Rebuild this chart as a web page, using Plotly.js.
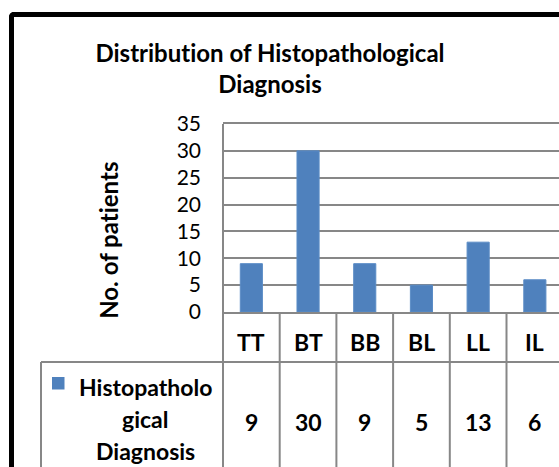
<!DOCTYPE html>
<html>
<head>
<meta charset="utf-8">
<script src="https://cdn.plot.ly/plotly-3.0.1.min.js"></script>
<style>
  html, body { margin: 0; padding: 0; background: #fff; overflow: hidden; }
  #wrap { position: relative; width: 559px; height: 467px; overflow: hidden; }
  #chart { position: absolute; left: 0; top: 0; width: 559px; height: 467px; }
  #chart text { font-variant-ligatures: none; font-feature-settings: "liga" 0; }
  #frame { position: absolute; left: 9px; top: 12px; width: 700px; height: 600px;
           border-left: 5.5px solid #000; border-top: 5.5px solid #000;
           border-top-left-radius: 5px; pointer-events: none; }
</style>
</head>
<body>
<div id="wrap">
  <div id="chart"></div>
  <div id="frame"></div>
</div>
<script>
// ---- data ----
const categories = ['TT', 'BT', 'BB', 'BL', 'LL', 'IL'];
const patients = [9, 30, 9, 5, 13, 6];
const seriesName = 'Histopathological Diagnosis';
const seriesLines = ['Histopatholo', 'gical', 'Diagnosis'];
const yTickVals = [0, 5, 10, 15, 20, 25, 30, 35];
const chartTitle = 'Distribution of Histopathological<br>Diagnosis';
const yTitle = 'No. of patients';

// ---- layout geometry (pixels) ----
const W = 559, H = 467;
const plotL = 223, plotT = 124, plotB = 312, plotR = W;
const catW = 56.7;
const plotW = plotR - plotL, plotH = plotB - plotT;
const px = x => (x - plotL) / plotW;        // pixel -> paper x
const py = y => (plotB - y) / plotH;        // pixel -> paper y

const FONT = 'Lato, Carlito, Calibri, sans-serif';
const GRID = '#878787';
const BAR = '#4F81BD';
const BOLD = 23;

const headerBottom = 362;
const tableLeft = 41;
const bottomY = 480;

const shapes = [];
// vertical lines at category boundaries through the data table
for (let i = 1; i <= categories.length; i++) {
  shapes.push({type: 'line', xref: 'x', yref: 'paper', x0: i - 0.5, x1: i - 0.5,
    y0: 0, y1: py(bottomY), line: {color: GRID, width: 2}});
}
// plot left edge continued down through the table
shapes.push({type: 'line', xref: 'paper', yref: 'paper', x0: 0, x1: 0,
  y0: 1, y1: py(bottomY), line: {color: GRID, width: 2}});
// horizontal line between header row and value row
shapes.push({type: 'line', xref: 'paper', yref: 'paper', x0: px(tableLeft), x1: 1.05,
  y0: py(headerBottom), y1: py(headerBottom), line: {color: GRID, width: 2}});
// left edge of the value row
shapes.push({type: 'line', xref: 'paper', yref: 'paper', x0: px(tableLeft), x1: px(tableLeft),
  y0: py(headerBottom), y1: py(bottomY), line: {color: GRID, width: 2}});
// legend key
shapes.push({type: 'rect', xref: 'paper', yref: 'paper', x0: px(52), x1: px(64.5),
  y0: py(377), y1: py(389.5), fillcolor: BAR, line: {width: 0}});

const annotations = [];
categories.forEach((c, i) => {
  annotations.push({x: c, xref: 'x', y: py(341.5), yref: 'paper', text: '<b>' + c + '</b>',
    showarrow: false, xanchor: 'center', yanchor: 'middle',
    font: {family: FONT, size: BOLD, color: '#000'}});
  annotations.push({x: c, xref: 'x', y: py(421.5), yref: 'paper', text: '<b>' + patients[i] + '</b>',
    showarrow: false, xanchor: 'center', yanchor: 'middle',
    font: {family: FONT, size: BOLD, color: '#000'}});
});
const lineYs = [387, 419, 451];
seriesLines.forEach((t, i) => {
  annotations.push({x: px(145), xref: 'paper', y: py(lineYs[i]), yref: 'paper',
    text: '<b>' + t + '</b>', showarrow: false, xanchor: 'center', yanchor: 'middle',
    font: {family: FONT, size: BOLD, color: '#000'}});
});
annotations.push({x: px(108), xref: 'paper', y: py(240), yref: 'paper',
  text: '<b>' + yTitle + '</b>', textangle: -90, showarrow: false,
  xanchor: 'center', yanchor: 'middle', font: {family: FONT, size: 24, color: '#000'}});

const trace = {
  type: 'bar',
  name: seriesName,
  x: categories,
  y: patients,
  marker: {color: BAR, line: {color: '#5b8cc6', width: 1}},
  hoverinfo: 'x+y'
};

const layout = {
  width: W, height: H,
  margin: {l: plotL, r: W - plotR, t: plotT, b: H - plotB, pad: 0},
  paper_bgcolor: '#fff', plot_bgcolor: '#fff',
  showlegend: false,
  bargap: 0.61,
  font: {family: FONT, color: '#000'},
  title: {text: '<b>' + chartTitle + '</b>', x: 270 / W, xanchor: 'center',
    xref: 'container', yref: 'container', y: 1 - 61.5 / H, yanchor: 'middle',
    font: {family: FONT, size: 24, color: '#000'}},
  xaxis: {type: 'category', range: [-0.5, -0.5 + plotW / catW],
    showticklabels: false, showgrid: false, zeroline: false,
    showline: true, mirror: true, linecolor: GRID, linewidth: 2, ticks: '', fixedrange: true},
  yaxis: {range: [0, 35], tickvals: yTickVals, ticktext: yTickVals.map(String),
    showgrid: true, gridcolor: GRID, gridwidth: 2,
    zeroline: false, showline: false, ticks: '', ticklabelstandoff: 21,
    tickfont: {family: FONT, size: 21, color: '#000'}, fixedrange: true},
  shapes: shapes,
  annotations: annotations
};

Plotly.newPlot('chart', [trace], layout, {displayModeBar: false, staticPlot: true});
</script>
</body>
</html>
